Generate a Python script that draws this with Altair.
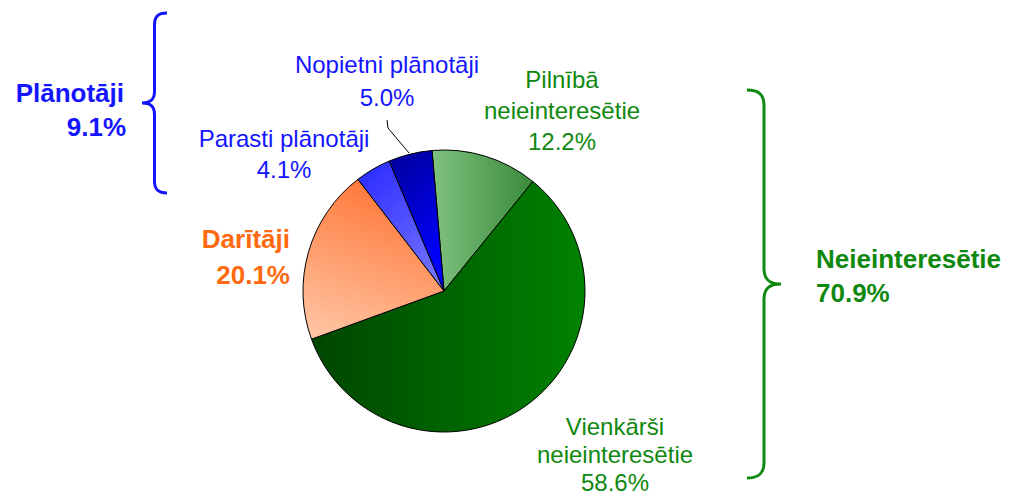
import math
import altair as alt
import pandas as pd

# ---------------- data ----------------
categories = ["Pilnībā neieinteresētie", "Vienkārši neieinteresētie", "Darītāji",
              "Parasti plānotāji", "Nopietni plānotāji"]
shares = [12.2, 58.6, 20.1, 4.1, 5.0]

# slice labels (lines)
label_lines = [
    ["Pilnībā", "neieinteresētie", "12.2%"],
    ["Vienkārši", "neieinteresētie", "58.6%"],
    ["Darītāji", "20.1%"],
    ["Parasti plānotāji", "4.1%"],
    ["Nopietni plānotāji", "5.0%"],
]
group_names = ["Plānotāji", "Neieinteresētie"]
group_shares = ["9.1%", "70.9%"]

# ---------------- layout / style ----------------
OFF = 8
W, H = 1015 - 2 * OFF, 503 - 2 * OFF
pie_cx, pie_cy, pie_r = 444 - OFF, 291 - OFF, 141
start = 2 * math.pi - 0.085

BLUE = "#1414ff"
GREEN = "#0f880f"
ORANGE = "#ff6a10"
FONT = "Liberation Sans"
REG_SIZE = 24
BOLD_SIZE = 26


def lin(c0, c1, x1=0, y1=0, x2=1, y2=0):
    return {"gradient": "linear", "x1": x1, "y1": y1, "x2": x2, "y2": y2,
            "stops": [{"offset": 0, "color": c0}, {"offset": 1, "color": c1}]}


gradients = [
    lin("#7fc27f", "#3a8a3a"),
    lin("#004600", "#008200"),
    lin("#ff7a3c", "#ffc4a2", 0.5, 0.05, 0.2, 1),
    lin("#2e2eff", "#7474ff", 0.2, 0, 0.8, 1),
    lin("#00009a", "#0000ff", 0, 0, 0.3, 1),
]

df = pd.DataFrame({"cat": categories, "share": shares, "idx": list(range(len(categories)))})

base = (alt.Chart(df)
        .transform_window(cum="sum(share)", sort=[alt.SortField("idx")], frame=[None, 0])
        .transform_calculate(s0="datum.cum - datum.share"))

theta_scale = alt.Scale(domain=[0, 100], range=[start, start + 2 * math.pi])

layers = []
for cat, grad in zip(categories, gradients):
    layers.append(
        base.transform_filter(alt.datum.cat == cat)
        .mark_arc(fill=grad, stroke="#000000", strokeWidth=1, radius=pie_r)
        .encode(theta=alt.Theta("s0:Q", scale=theta_scale),
                theta2="cum:Q",
                x=alt.value(pie_cx), y=alt.value(pie_cy))
    )

# slice label positions (page px: centre x, first baseline y, line step)
label_pos = [(562, 88, 31), (615, 435, 28), (290, 248, 36), (284, 147, 31), (387, 73, 33)]
label_col = [GREEN, GREEN, ORANGE, BLUE, BLUE]

reg_rows = []
bold_right = []
for i, lines in enumerate(label_lines):
    x0, y0, step = label_pos[i]
    for j, t in enumerate(lines):
        row = {"t": t, "x": x0 - OFF, "y": y0 + j * step - OFF, "c": label_col[i]}
        if categories[i] == "Darītāji":
            bold_right.append(row)
        else:
            reg_rows.append(row)

bold_right.append({"t": group_names[0], "x": 124 - OFF, "y": 102 - OFF, "c": BLUE})
bold_right.append({"t": group_shares[0], "x": 126 - OFF, "y": 136 - OFF, "c": BLUE})
bold_left = [
    {"t": group_names[1], "x": 816 - OFF, "y": 268 - OFF, "c": GREEN},
    {"t": group_shares[1], "x": 816 - OFF, "y": 302 - OFF, "c": GREEN},
]


def text_layer(rows, align, weight, size):
    return alt.Chart(pd.DataFrame(rows)).mark_text(
        align=align, baseline="alphabetic", font=FONT, fontSize=size, fontWeight=weight
    ).encode(x=alt.X("x:Q", scale=None), y=alt.Y("y:Q", scale=None),
             text="t:N", color=alt.Color("c:N", scale=None))


layers.append(text_layer(reg_rows, "center", "normal", REG_SIZE))
layers.append(text_layer(bold_right, "right", "bold", BOLD_SIZE))
layers.append(text_layer(bold_left, "left", "bold", BOLD_SIZE))

# leader line for "Nopietni plānotāji"
leader = pd.DataFrame({"x": [387 - OFF, 388 - OFF, 409 - OFF],
                       "y": [120 - OFF, 128 - OFF, 153 - OFF], "o": [0, 1, 2]})
layers.append(alt.Chart(leader).mark_line(color="#000000", strokeWidth=1).encode(
    x=alt.X("x:Q", scale=None), y=alt.Y("y:Q", scale=None), order="o:Q"))

# braces as custom symbol paths
left_brace = ("M 0.139 -1 C 0.04 -1 0 -0.96 0 -0.87 L 0 -0.13 "
              "C 0 -0.04 -0.04 0 -0.139 0 C -0.04 0 0 0.04 0 0.13 "
              "L 0 0.87 C 0 0.96 0.04 1 0.139 1")
right_brace = ("M -0.088 -1 C -0.025 -1 0 -0.975 0 -0.92 L 0 -0.08 "
               "C 0 -0.025 0.025 0 0.088 0 C 0.025 0 0 0.025 0 0.08 "
               "L 0 0.92 C 0 0.975 -0.025 1 -0.088 1")

braces = [
    (left_brace, 154.5, 103, 180, BLUE),
    (right_brace, 764, 284, 388, GREEN),
]
for path, bx, by, bh, col in braces:
    layers.append(
        alt.Chart(pd.DataFrame({"x": [bx - OFF], "y": [by - OFF]}))
        .mark_point(shape=path, size=bh * bh, stroke=col, strokeWidth=3,
                    filled=False, opacity=1)
        .encode(x=alt.X("x:Q", scale=None), y=alt.Y("y:Q", scale=None))
    )

chart = alt.layer(*layers).properties(
    width=W, height=H, padding=0, autosize=alt.AutoSizeParams(type="none")
).configure_view(stroke=None)

chart.save("out.html", embed_options={"renderer": "svg", "actions": False})
